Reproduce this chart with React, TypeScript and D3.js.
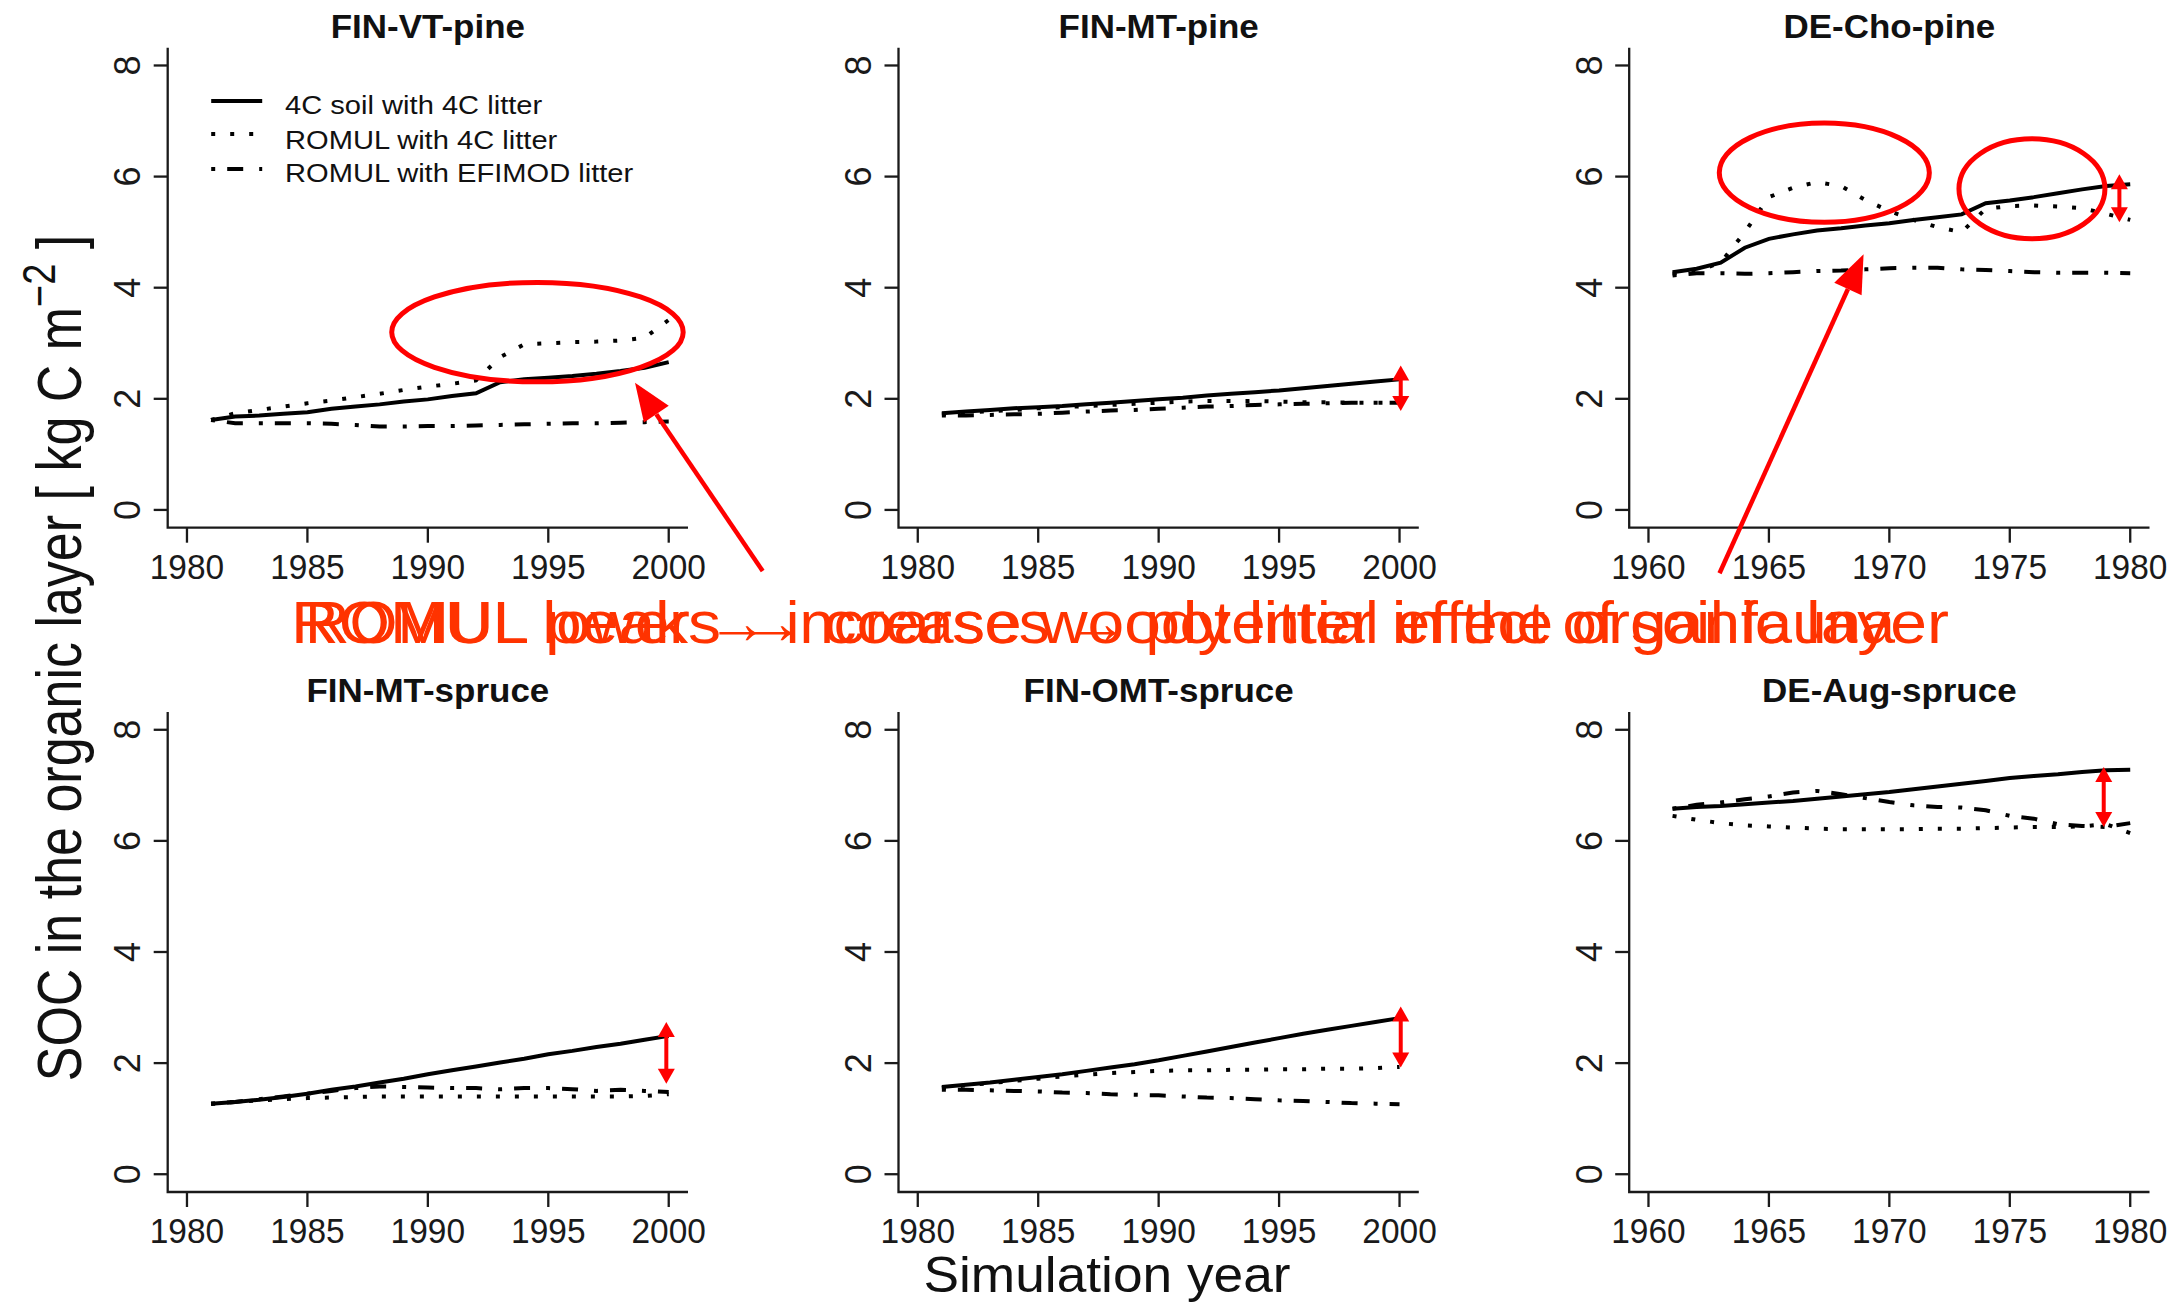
import React, { useRef, useEffect } from "react";
import * as d3 from "d3";

const years1981 = [1981, 1982, 1983, 1984, 1985, 1986, 1987, 1988, 1989, 1990, 1991, 1992, 1993, 1994, 1995, 1996, 1997, 1998, 1999, 2000];
const years1961 = [1961, 1962, 1963, 1964, 1965, 1966, 1967, 1968, 1969, 1970, 1971, 1972, 1973, 1974, 1975, 1976, 1977, 1978, 1979, 1980];
const ticks1980 = [1980, 1985, 1990, 1995, 2000];
const ticks1960 = [1960, 1965, 1970, 1975, 1980];
const yTicks = [0, 2, 4, 6, 8];

// FIN-VT-pine
const vtPineSoil = [1.62, 1.68, 1.7, 1.73, 1.76, 1.82, 1.86, 1.9, 1.95, 1.99, 2.05, 2.1, 2.3, 2.35, 2.38, 2.41, 2.45, 2.5, 2.56, 2.66];
const vtPineRomul = [1.62, 1.74, 1.8, 1.86, 1.92, 1.97, 2.03, 2.09, 2.16, 2.22, 2.27, 2.33, 2.75, 2.98, 3.0, 3.02, 3.03, 3.05, 3.1, 3.42];
const vtPineEfimod = [1.62, 1.56, 1.56, 1.56, 1.56, 1.55, 1.53, 1.5, 1.5, 1.51, 1.51, 1.52, 1.53, 1.54, 1.55, 1.56, 1.56, 1.57, 1.58, 1.59];
// FIN-MT-pine
const mtPineSoil = [1.74, 1.77, 1.8, 1.83, 1.85, 1.87, 1.9, 1.93, 1.96, 1.99, 2.02, 2.06, 2.09, 2.12, 2.15, 2.19, 2.23, 2.27, 2.31, 2.35];
const mtPineRomul = [1.72, 1.75, 1.78, 1.8, 1.83, 1.85, 1.87, 1.89, 1.91, 1.93, 1.95, 1.96, 1.96, 1.96, 1.95, 1.94, 1.94, 1.93, 1.93, 1.93];
const mtPineEfimod = [1.7, 1.7, 1.71, 1.72, 1.73, 1.75, 1.77, 1.79, 1.8, 1.82, 1.84, 1.86, 1.87, 1.89, 1.9, 1.91, 1.92, 1.93, 1.93, 1.93];
// DE-Cho-pine
const choPineSoil = [4.28, 4.34, 4.45, 4.72, 4.88, 4.96, 5.03, 5.07, 5.12, 5.16, 5.22, 5.27, 5.32, 5.52, 5.57, 5.63, 5.7, 5.77, 5.83, 5.86];
const choPineRomul = [4.25, 4.3, 4.45, 5.0, 5.63, 5.8, 5.9, 5.83, 5.58, 5.38, 5.22, 5.09, 5.0, 5.42, 5.47, 5.48, 5.46, 5.43, 5.33, 5.22];
const choPineEfimod = [4.22, 4.26, 4.26, 4.25, 4.26, 4.28, 4.3, 4.31, 4.33, 4.35, 4.36, 4.36, 4.33, 4.32, 4.3, 4.28, 4.27, 4.27, 4.27, 4.26];
// FIN-MT-spruce
const mtSpruceSoil = [1.27, 1.3, 1.34, 1.39, 1.45, 1.52, 1.58, 1.65, 1.72, 1.8, 1.87, 1.94, 2.01, 2.08, 2.16, 2.22, 2.29, 2.35, 2.42, 2.49];
const mtSpruceRomul = [1.27, 1.3, 1.33, 1.35, 1.37, 1.38, 1.39, 1.4, 1.4, 1.4, 1.4, 1.4, 1.4, 1.4, 1.4, 1.4, 1.4, 1.4, 1.41, 1.44];
const mtSpruceEfimod = [1.27, 1.3, 1.35, 1.4, 1.45, 1.5, 1.55, 1.58, 1.57, 1.56, 1.55, 1.55, 1.53, 1.55, 1.55, 1.53, 1.5, 1.52, 1.5, 1.48];
// FIN-OMT-spruce
const omtSpruceSoil = [1.57, 1.61, 1.65, 1.7, 1.75, 1.8, 1.86, 1.92, 1.98, 2.05, 2.13, 2.21, 2.29, 2.37, 2.45, 2.53, 2.6, 2.67, 2.74, 2.81];
const omtSpruceRomul = [1.55, 1.6, 1.64, 1.68, 1.72, 1.76, 1.79, 1.82, 1.84, 1.86, 1.87, 1.87, 1.88, 1.88, 1.89, 1.89, 1.9, 1.9, 1.91, 1.93];
const omtSpruceEfimod = [1.52, 1.52, 1.51, 1.5, 1.49, 1.47, 1.46, 1.44, 1.43, 1.42, 1.4, 1.38, 1.37, 1.35, 1.33, 1.32, 1.3, 1.28, 1.27, 1.26];
// DE-Aug-spruce
const augSpruceSoil = [6.58, 6.61, 6.63, 6.66, 6.69, 6.72, 6.76, 6.8, 6.84, 6.88, 6.93, 6.98, 7.03, 7.08, 7.13, 7.17, 7.2, 7.24, 7.27, 7.28];
const augSpruceRomul = [6.45, 6.38, 6.32, 6.28, 6.26, 6.24, 6.22, 6.21, 6.21, 6.21, 6.21, 6.22, 6.22, 6.23, 6.24, 6.25, 6.25, 6.26, 6.3, 6.14];
const augSpruceEfimod = [6.58, 6.65, 6.69, 6.75, 6.8, 6.87, 6.9, 6.84, 6.77, 6.7, 6.64, 6.61, 6.6, 6.55, 6.45, 6.4, 6.3, 6.27, 6.25, 6.32];

const legendLabels = ["4C soil with 4C litter", "ROMUL with 4C litter", "ROMUL with EFIMOD litter"];
const noteA = "ROMUL peaks \u2192 coarse woody litter in the organic layer";
const noteB = "ROMUL lower \u2192 increases \u2192 potential effect of soil fauna";

const panels = [
  { title: "FIN-VT-pine", years: years1981, ticks: ticks1980, series: [vtPineSoil, vtPineRomul, vtPineEfimod] },
  { title: "FIN-MT-pine", years: years1981, ticks: ticks1980, series: [mtPineSoil, mtPineRomul, mtPineEfimod] },
  { title: "DE-Cho-pine", years: years1961, ticks: ticks1960, series: [choPineSoil, choPineRomul, choPineEfimod] },
  { title: "FIN-MT-spruce", years: years1981, ticks: ticks1980, series: [mtSpruceSoil, mtSpruceRomul, mtSpruceEfimod] },
  { title: "FIN-OMT-spruce", years: years1981, ticks: ticks1980, series: [omtSpruceSoil, omtSpruceRomul, omtSpruceEfimod] },
  { title: "DE-Aug-spruce", years: years1961, ticks: ticks1960, series: [augSpruceSoil, augSpruceRomul, augSpruceEfimod] },
];

// red marks, in data units of their panel
const circles = [
  { panel: 0, x: 1994.55, y: 3.2, rx: 6.05, ry: 0.895 },
  { panel: 2, x: 1967.3, y: 6.07, rx: 4.36, ry: 0.893 },
  { panel: 2, x: 1975.92, y: 5.78, rx: 3.03, ry: 0.9 },
];
const pointers = [
  { panel: 0, x1: 2003.9, y1: -1.1, x2: 1998.6, y2: 2.29 },
  { panel: 2, x1: 1962.95, y1: -1.14, x2: 1968.93, y2: 4.6 },
];
const gaps = [
  { panel: 1, x: 2000.05, top: 2.6, bottom: 1.78 },
  { panel: 2, x: 1979.55, top: 6.04, bottom: 5.18 },
  { panel: 3, x: 1999.9, top: 2.74, bottom: 1.63 },
  { panel: 4, x: 2000.05, top: 3.02, bottom: 1.92 },
  { panel: 5, x: 1978.9, top: 7.33, bottom: 6.25 },
];

const FONT = '"Liberation Sans", Arial, Helvetica, sans-serif';
const dashes = [null, "4,15", "4,12,16,16"];

const App = () => {
  const svgRef = useRef(null);

  useEffect(() => {
    const svg = d3.select(svgRef.current);
    svg.selectAll("*").remove();

    const colLeft = [167.7, 898.5, 1629.2];
    const rowTop = [47.7, 712];
    const plotW = 520.3;
    const plotH = 480;

    svg.append("rect").attr("width", 2183).attr("height", 1304).attr("fill", "white");

    const scales = panels.map((p, i) => {
      const left = colLeft[i % 3];
      const top = rowTop[Math.floor(i / 3)];
      const x = d3
        .scaleLinear()
        .domain([p.ticks[0] - 0.8, p.ticks[p.ticks.length - 1] + 0.8])
        .range([left, left + plotW]);
      const y = d3.scaleLinear().domain([-0.32, 8.32]).range([top + plotH, top]);
      return { x, y, left, top };
    });

    panels.forEach((p, i) => {
      const { x, y, left, top } = scales[i];
      const g = svg.append("g");
      const bottom = top + plotH;

      // L-shaped box
      g.append("path")
        .attr("d", `M${left},${top}V${bottom}H${left + plotW}`)
        .attr("fill", "none")
        .attr("stroke", "#1a1a1a")
        .attr("stroke-width", 2.3);

      // x axis
      p.ticks.forEach((t) => {
        g.append("line")
          .attr("x1", x(t)).attr("x2", x(t))
          .attr("y1", bottom).attr("y2", bottom + 15)
          .attr("stroke", "#1a1a1a").attr("stroke-width", 2.3);
        g.append("text")
          .attr("transform", `translate(${x(t)},${bottom + 51.3}) scale(0.93,1)`)
          .attr("text-anchor", "middle")
          .attr("font-family", FONT)
          .attr("font-size", 36)
          .attr("fill", "#1a1a1a")
          .text(t);
      });

      // y axis
      yTicks.forEach((t) => {
        g.append("line")
          .attr("x1", left - 14).attr("x2", left)
          .attr("y1", y(t)).attr("y2", y(t))
          .attr("stroke", "#1a1a1a").attr("stroke-width", 2.3);
        g.append("text")
          .attr("transform", `translate(${left - 27.7},${y(t)}) rotate(-90)`)
          .attr("text-anchor", "middle")
          .attr("font-family", FONT)
          .attr("font-size", 36)
          .attr("fill", "#1a1a1a")
          .text(t);
      });

      g.append("text")
        .attr("transform", `translate(${left + plotW / 2},${top - 10.1}) scale(1.06,1)`)
        .attr("text-anchor", "middle")
        .attr("font-family", FONT)
        .attr("font-weight", "bold")
        .attr("font-size", 33)
        .attr("fill", "#111")
        .text(p.title);

      const line = d3
        .line()
        .x((d, j) => x(p.years[j]))
        .y((d) => y(d));

      p.series.forEach((s, k) => {
        g.append("path")
          .attr("d", line(s))
          .attr("fill", "none")
          .attr("stroke", "black")
          .attr("stroke-width", 4)
          .attr("stroke-dasharray", dashes[k])
          .attr("stroke-linejoin", "miter");
      });

      if (i === 0) {
        const lineY = [53.3, 86.3, 121.3];
        const textY = [65.8, 100.8, 134.3];
        legendLabels.forEach((label, k) => {
          g.append("line")
            .attr("x1", left + 43.5).attr("x2", left + 94.5)
            .attr("y1", top + lineY[k]).attr("y2", top + lineY[k])
            .attr("stroke", "black")
            .attr("stroke-width", 4)
            .attr("stroke-dasharray", dashes[k]);
          g.append("text")
            .attr("transform", `translate(${left + 117.3},${top + textY[k]}) scale(1.12,1)`)
            .attr("font-family", FONT)
            .attr("font-size", 26)
            .attr("fill", "#111")
            .text(label);
        });
      }
    });

    // red annotations
    const red = "#ff0000";
    circles.forEach((c) => {
      const { x, y } = scales[c.panel];
      svg.append("ellipse")
        .attr("cx", x(c.x)).attr("cy", y(c.y))
        .attr("rx", x(c.x + c.rx) - x(c.x))
        .attr("ry", y(c.y - c.ry) - y(c.y))
        .attr("fill", "none")
        .attr("stroke", red)
        .attr("stroke-width", 5);
    });

    pointers.forEach((a) => {
      const { x, y } = scales[a.panel];
      const x1 = x(a.x1), y1 = y(a.y1), x2 = x(a.x2), y2 = y(a.y2);
      const len = Math.hypot(x2 - x1, y2 - y1);
      const ux = (x2 - x1) / len, uy = (y2 - y1) / len;
      const hl = 38, hw = 15;
      const bx = x2 - ux * hl, by = y2 - uy * hl;
      svg.append("line")
        .attr("x1", x1).attr("y1", y1).attr("x2", bx).attr("y2", by)
        .attr("stroke", red).attr("stroke-width", 4.5);
      svg.append("path")
        .attr("d", `M${x2},${y2}L${bx - uy * hw},${by + ux * hw}L${bx + uy * hw},${by - ux * hw}Z`)
        .attr("fill", red);
    });

    gaps.forEach((a) => {
      const { x, y } = scales[a.panel];
      const cx = x(a.x), yt = y(a.top), yb = y(a.bottom);
      const hl = 15, hw = 8.5;
      svg.append("line")
        .attr("x1", cx).attr("x2", cx)
        .attr("y1", yt + hl - 1).attr("y2", yb - hl + 1)
        .attr("stroke", red).attr("stroke-width", 4);
      svg.append("path")
        .attr("d", `M${cx},${yt}L${cx - hw},${yt + hl}L${cx + hw},${yt + hl}Z`)
        .attr("fill", red);
      svg.append("path")
        .attr("d", `M${cx},${yb}L${cx - hw},${yb - hl}L${cx + hw},${yb - hl}Z`)
        .attr("fill", red);
    });

    // the two notes sit on top of each other, as in the slide
    const notes = [
      { text: noteA, x: 291, len: 1658 },
      { text: noteB, x: 305, len: 1590 },
    ];
    notes.forEach((n) => {
      svg.append("text")
        .attr("x", n.x)
        .attr("y", 643.3)
        .attr("textLength", n.len)
        .attr("lengthAdjust", "spacingAndGlyphs")
        .attr("font-family", FONT)
        .attr("font-size", 60)
        .attr("fill", "#ff3300")
        .text(n.text);
    });

    // shared axis titles
    svg.append("text")
      .attr("transform", "translate(1107,1292) scale(1.065,1)")
      .attr("text-anchor", "middle")
      .attr("font-family", FONT)
      .attr("font-size", 50)
      .attr("fill", "#111")
      .text("Simulation year");

    const yTitle = svg.append("text")
      .attr("transform", "translate(81,658) rotate(-90) scale(1,1.2)")
      .attr("text-anchor", "middle")
      .attr("font-family", FONT)
      .attr("font-size", 52)
      .attr("fill", "#111");
    yTitle.append("tspan").text("SOC in the organic layer [ kg C m");
    yTitle.append("tspan").attr("dy", -22).attr("font-size", 38).text("\u22122");
    yTitle.append("tspan").attr("dy", 22).text(" ]");

    return () => {
      svg.selectAll("*").remove();
    };
  }, []);

  return (
    <svg
      ref={svgRef}
      width={2183}
      height={1304}
      style={{ position: "absolute", left: 0, top: 0, display: "block" }}
    ></svg>
  );
};

export default App;
